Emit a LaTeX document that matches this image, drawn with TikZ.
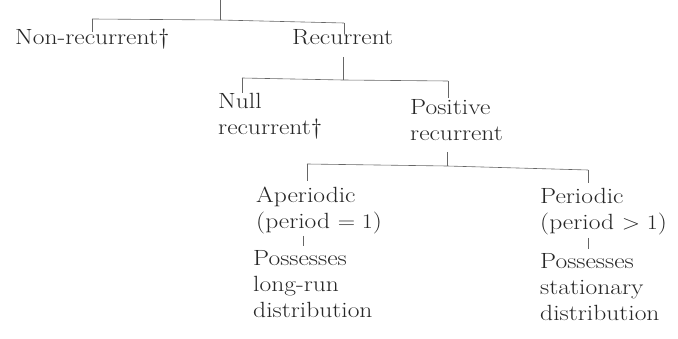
\documentclass[tikz,border=0pt]{standalone}
\begin{document}
\begin{tikzpicture}[x=1pt,y=-1pt,
  lbl/.style={anchor=north west,inner sep=0pt,align=left,xscale=1.16,
    font=\fontsize{22}{26}\selectfont,text=black!85},
  conn/.style={draw=black!60,line width=0.6pt}]
\useasboundingbox (0,0) rectangle (678,339);
% text nodes
\node[lbl] (nonrec) at (15,29) {Non-recurrent\textdagger};
\node[lbl] (rec) at (292,29) {Recurrent};
\node[lbl] (null) at (218,93) {Null\\recurrent\textdagger};
\node[lbl] (pos) at (410,99) {Positive\\recurrent};
\node[lbl] (aper) at (256,187) {Aperiodic\\(period $= 1$)};
\node[lbl] (posL) at (253,250) {Possesses\\long-run\\distribution};
\node[lbl] (per) at (540,188) {Periodic\\(period $> 1$)};
\node[lbl] (posR) at (540,253) {Possesses\\stationary\\distribution};
% junction coordinates
\coordinate (top) at (220,0);
\coordinate (j0) at (220,20);
\coordinate (j0l) at (92,19);
\coordinate (j0r) at (344,23);
\coordinate (nrt) at (92,32);
\coordinate (rt) at (344,34);
\coordinate (rb) at (343,57);
\coordinate (j1) at (343,80);
\coordinate (j1l) at (242,78);
\coordinate (j1r) at (448,81);
\coordinate (nt) at (242,93);
\coordinate (pt) at (448,98);
\coordinate (pb) at (447,152);
\coordinate (j2) at (447,166);
\coordinate (j2l) at (307,164);
\coordinate (j2r) at (588,170);
\coordinate (at) at (307,181);
\coordinate (prt) at (588,183);
\coordinate (ab) at (303,236);
\coordinate (abt) at (303,246);
\coordinate (pbb) at (588,238);
\coordinate (pbt) at (588,249);
% connectors
\draw[conn] (top) -- (j0);
\draw[conn] (j0l) -- (j0) -- (j0r);
\draw[conn] (j0l) -- (nrt);
\draw[conn] (j0r) -- (rt);
\draw[conn] (rb) -- (j1);
\draw[conn] (j1l) -- (j1) -- (j1r);
\draw[conn] (j1l) -- (nt);
\draw[conn] (j1r) -- (pt);
\draw[conn] (pb) -- (j2);
\draw[conn] (j2l) -- (j2) -- (j2r);
\draw[conn] (j2l) -- (at);
\draw[conn] (j2r) -- (prt);
\draw[conn] (ab) -- (abt);
\draw[conn] (pbb) -- (pbt);
\end{tikzpicture}
\end{document}
